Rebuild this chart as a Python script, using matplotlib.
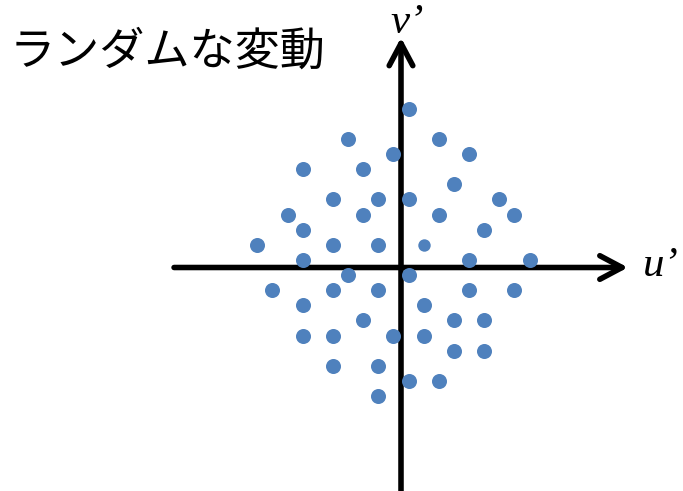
import matplotlib
matplotlib.use("Agg")
import matplotlib.pyplot as plt

plt.rcParams['font.family'] = ['Noto Sans CJK JP', 'DejaVu Sans']

# scatter positions in grid units (origin at the axis crossing)
u_vals = [0.5,
          -3.5, 2.5,
          -0.5, 4.5,
          -6.5, -2.5,
          3.5,
          -4.5, -1.5, 0.5, 6.5,
          -7.5, -2.5, 2.5, 7.5,
          -6.5, 5.5,
          -9.5, -4.5, -1.5,
          -6.5, 4.5, 8.5,
          -3.5, 0.5,
          -8.5, -4.5, -1.5, 4.5, 7.5,
          -6.5, 1.5,
          -2.5, 3.5, 5.5,
          -6.5, -4.5, -0.5, 1.5,
          3.5, 5.5,
          -4.5, -1.5,
          0.5, 2.5,
          -1.5]
v_vals = [10.5,
          8.5, 8.5,
          7.5, 7.5,
          6.5, 6.5,
          5.5,
          4.5, 4.5, 4.5, 4.5,
          3.5, 3.5, 3.5, 3.5,
          2.5, 2.5,
          1.5, 1.5, 1.5,
          0.5, 0.5, 0.5,
          -0.5, -0.5,
          -1.5, -1.5, -1.5, -1.5, -1.5,
          -2.5, -2.5,
          -3.5, -3.5, -3.5,
          -4.5, -4.5, -4.5, -4.5,
          -5.5, -5.5,
          -6.5, -6.5,
          -7.5, -7.5,
          -8.5]
# one smaller point near the origin
small_u = [1.5]
small_v = [1.5]

title = 'ランダムな変動'
x_label = "u\u2019"
y_label = "v\u2019"
serif = ['Liberation Serif', 'DejaVu Serif']

fig = plt.figure(figsize=(6.83, 4.91), dpi=100)
ax = fig.add_axes([0, 0, 1, 1])
unit = 15.13
ax.set_xlim(-401 / unit, 282 / unit)
ax.set_ylim(-223.5 / unit, 267.5 / unit)
ax.axis('off')

arrow = dict(arrowstyle='->,head_length=1.6,head_width=0.85', lw=4,
             color='black', shrinkA=0, shrinkB=0, mutation_scale=10)
ax.annotate('', xy=(15, 0), xytext=(-15, 0), arrowprops=arrow)
ax.annotate('', xy=(0, 15.2), xytext=(0, -16), arrowprops=arrow)

ax.scatter(u_vals, v_vals, s=117, color='#4F81BD', linewidths=0, zorder=3)
ax.scatter(small_u, small_v, s=80, color='#4F81BD', linewidths=0, zorder=3)

ax.text(16.0, 0.1, x_label, fontsize=31, fontstyle='italic',
        family=serif, ha='left', va='center')
ax.text(0.4, 16.2, y_label, fontsize=31, fontstyle='italic',
        family=serif, ha='center', va='center')
ax.text(-25.9, 14.3, title, fontsize=32.5, ha='left', va='center')

fig.savefig('out.png', dpi=100)
